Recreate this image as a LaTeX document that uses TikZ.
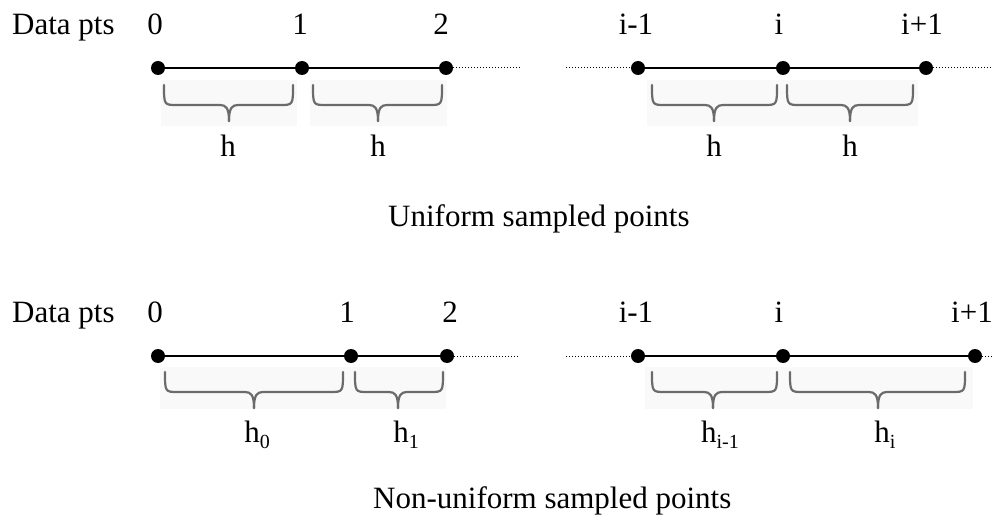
\documentclass[tikz,border=0pt]{standalone}
\usepackage{fontspec}
\setmainfont{Liberation Serif}
\newcommand{\sbs}[1]{\raisebox{-0.22em}{\fontsize{20}{20}\selectfont #1}}
% custom flat brace: #1 left x, #2 right x, #3 top y, #4 tip x
\newcommand{\flatbrace}[4]{%
  \draw[brcline] (#1,#3) .. controls (#1,{#3+20}) and (#1,{#3+20}) .. ({#1+13},{#3+20})
    -- ({#4-9},{#3+20}) .. controls ({#4-3},{#3+20}) and (#4,{#3+23}) .. (#4,{#3+36});
  \draw[brcline] (#2,#3) .. controls (#2,{#3+20}) and (#2,{#3+20}) .. ({#2-13},{#3+20})
    -- ({#4+9},{#3+20}) .. controls ({#4+3},{#3+20}) and (#4,{#3+23}) .. (#4,{#3+36});
}
\begin{document}
\begin{tikzpicture}[x=1pt,y=-1pt,
  pt/.style={circle,fill=black,inner sep=0pt,minimum size=14pt},
  seg/.style={line width=2pt},
  dotseg/.style={line width=1pt,dash pattern=on 1pt off 2pt},
  lbl/.style={anchor=base,inner sep=0pt,font=\fontsize{31}{31}\selectfont},
  brcline/.style={draw=black!58,line width=2.2pt,line cap=round,line join=round},
  bgbox/.style={fill=black!2.5,draw=none}]
\useasboundingbox (0,0) rectangle (992,521);
% faint backgrounds behind braces
\fill[bgbox] (161,80) rectangle (297,126);
\fill[bgbox] (310,80) rectangle (447,126);
\fill[bgbox] (647,80) rectangle (918,126);
\fill[bgbox] (160,367) rectangle (446,409);
\fill[bgbox] (645,367) rectangle (973,409);

% ---------- top row ----------
\node[lbl,anchor=base west] (dp1) at (12,35) {Data pts};
\node[lbl] (t0) at (155,35) {0};
\node[lbl] (t1) at (300,35) {1};
\node[lbl] (t2) at (441,35) {2};
\node[lbl] (tim) at (636,35) {i-1};
\node[lbl] (ti) at (779,35) {i};
\node[lbl] (tip) at (922,35) {i+1};

\coordinate (ta) at (520,68);
\coordinate (tb) at (566,68);
\coordinate (tc) at (992,68);
\node[pt] (p0) at (158,68) {};
\node[pt] (p1) at (302,68) {};
\node[pt] (p2) at (446,68) {};
\node[pt] (pim) at (638,68) {};
\node[pt] (pi) at (783,68) {};
\node[pt] (pip) at (926,68) {};
\draw[seg] (p0) -- (p1);
\draw[seg] (p1) -- (p2);
\draw[seg] (pim) -- (pi);
\draw[seg] (pi) -- (pip);
\draw[dotseg] (p2) -- (ta);
\draw[dotseg] (tb) -- (pim);
\draw[dotseg] (pip) -- (tc);

\flatbrace{164}{293}{85}{229}
\flatbrace{313}{442}{85}{378}
\flatbrace{652}{777}{85}{714}
\flatbrace{787}{913}{85}{850}
\node[lbl] (h1) at (228,157) {h};
\node[lbl] (h2) at (378,157) {h};
\node[lbl] (h3) at (714,157) {h};
\node[lbl] (h4) at (850,157) {h};

\node[lbl,anchor=base west] (cap1) at (388,227) {Uniform sampled points};

% ---------- bottom row ----------
\node[lbl,anchor=base west] (dp2) at (12,322) {Data pts};
\node[lbl] (u0) at (155,322) {0};
\node[lbl] (u1) at (347,322) {1};
\node[lbl] (u2) at (450,322) {2};
\node[lbl] (uim) at (636,322) {i-1};
\node[lbl] (ui) at (779,322) {i};
\node[lbl] (uip) at (972,322) {i+1};

\coordinate (ua) at (520,356);
\coordinate (ub) at (566,356);
\coordinate (uc) at (992,356);
\node[pt] (q0) at (158,356) {};
\node[pt] (q1) at (351,356) {};
\node[pt] (q2) at (447,356) {};
\node[pt] (qim) at (638,356) {};
\node[pt] (qi) at (783,356) {};
\node[pt] (qip) at (975,356) {};
\draw[seg] (q0) -- (q1);
\draw[seg] (q1) -- (q2);
\draw[seg] (qim) -- (qi);
\draw[seg] (qi) -- (qip);
\draw[dotseg] (q2) -- (ua);
\draw[dotseg] (ub) -- (qim);
\draw[dotseg] (qip) -- (uc);

\flatbrace{165}{343}{372}{254}
\flatbrace{355}{443}{372}{398}
\flatbrace{652}{777}{372}{713}
\flatbrace{790}{965}{372}{878}
\node[lbl] (k1) at (257,442) {h\sbs{0}};
\node[lbl] (k2) at (406,442) {h\sbs{1}};
\node[lbl] (k3) at (720,442) {h\sbs{i-1}};
\node[lbl] (k4) at (885,442) {h\sbs{i}};

\node[lbl,anchor=base west] (cap2) at (373,508) {Non-uniform sampled points};
\end{tikzpicture}
\end{document}
